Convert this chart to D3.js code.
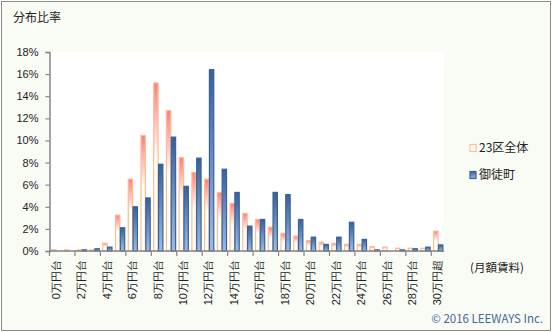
<!DOCTYPE html>
<html><head><meta charset="utf-8">
<script src="https://cdn.jsdelivr.net/npm/d3@7"></script>
<style>
body{margin:0;background:#fff;}
svg{display:block;font-family:"Noto Sans CJK JP","Noto Sans",sans-serif;}
</style></head>
<body><svg id="c" width="553" height="332"></svg>
<script>
const categories = ["0万円台","1万円台","2万円台","3万円台","4万円台","5万円台","6万円台","7万円台","8万円台","9万円台","10万円台","11万円台","12万円台","13万円台","14万円台","15万円台","16万円台","17万円台","18万円台","19万円台","20万円台","21万円台","22万円台","23万円台","24万円台","25万円台","26万円台","27万円台","28万円台","29万円台","30万円超"];
const seriesNames = ["23区全体","御徒町"];
const wardValues = [0.1,0.1,0.1,0.1,0.7,3.25,6.5,10.45,15.2,12.7,8.45,7.1,6.5,5.3,4.3,3.4,2.85,2.15,1.6,1.35,0.95,0.8,0.7,0.6,0.6,0.4,0.35,0.25,0.25,0.25,1.8];
const okachimachiValues = [0,0,0.1,0.2,0.35,2.1,4.0,4.8,7.85,10.3,5.85,8.4,16.4,7.4,5.3,2.25,2.85,5.3,5.1,2.85,1.25,0.6,1.25,2.6,1.05,0.1,0,0.1,0.2,0.35,0.55];
const yTicks = [0,2,4,6,8,10,12,14,16,18];
const xTickLabels = categories.filter((d,i)=>i%2===0);

const svg = d3.select("#c");
const W=553,H=332;
const pLeft=49.5, pRight=444, pTop=52, pBottom=251;

// background
svg.append("rect").attr("x",0).attr("y",0).attr("width",W).attr("height",H).attr("fill","#fff");
svg.append("rect").attr("x",1.5).attr("y",1.5).attr("width",549).attr("height",329)
  .attr("fill","#f9fbf5").attr("stroke","#8c8c8c").attr("stroke-width",1);
svg.append("rect").attr("x",pLeft).attr("y",pTop).attr("width",pRight-pLeft).attr("height",pBottom-pTop).attr("fill","#fff");

const defs = svg.append("defs");
const gO = defs.append("linearGradient").attr("id","gO").attr("x1",0).attr("y1",0).attr("x2",0).attr("y2",1);
gO.append("stop").attr("offset",0).attr("stop-color","#ff7d80");
gO.append("stop").attr("offset",0.45).attr("stop-color","#ffffff");
gO.append("stop").attr("offset",1).attr("stop-color","#ffffff");
const gB = defs.append("linearGradient").attr("id","gB").attr("x1",0).attr("y1",0).attr("x2",0).attr("y2",1);
gB.append("stop").attr("offset",0).attr("stop-color","#35609a");
gB.append("stop").attr("offset",1).attr("stop-color","#9dbbe3");

const x = d3.scaleBand().domain(categories).range([pLeft,pRight]).padding(0);
const x1 = d3.scaleBand().domain(seriesNames).range([x.bandwidth()*0.15, x.bandwidth()*0.95]).paddingInner(-0.12);
const y = d3.scaleLinear().domain([0,18]).range([pBottom,pTop]);

const styles = {
  "23区全体": {fill:"url(#gO)", stroke:"#fbbf8c"},
  "御徒町": {fill:"url(#gB)", stroke:"#3a6298"}
};
const seriesData = [
  {name:"23区全体", values: wardValues},
  {name:"御徒町", values: okachimachiValues}
];

seriesData.forEach(s=>{
  const st = styles[s.name];
  svg.append("g").selectAll("rect").data(s.values.map((v,i)=>({v,c:categories[i]})).filter(d=>d.v>0))
    .join("rect")
    .attr("x",d=>x(d.c)+x1(s.name)+0.5)
    .attr("y",d=>y(d.v))
    .attr("width",x1.bandwidth()-1)
    .attr("height",d=>Math.max(0,pBottom-y(d.v)))
    .attr("fill",st.fill).attr("stroke",st.stroke).attr("stroke-width",1.2);
});

// y axis
const yAxis = svg.append("g").attr("transform",`translate(${pLeft},0)`)
  .call(d3.axisLeft(y).tickValues(yTicks).tickSize(4).tickPadding(7).tickFormat(d=>d+"%"));
yAxis.select(".domain").attr("stroke","#858585").attr("stroke-width",1.5);
yAxis.selectAll(".tick line").attr("stroke","#858585").attr("stroke-width",1.2);
yAxis.selectAll("text").attr("font-size",11).attr("fill","#222");

// x axis line and tick marks at boundaries every 2 categories
svg.append("line").attr("x1",pLeft).attr("x2",pRight).attr("y1",pBottom).attr("y2",pBottom).attr("stroke","#858585").attr("stroke-width",1.5);
const boundaries = categories.filter((d,i)=>i%2===0);
svg.append("g").selectAll("line").data(boundaries).join("line")
  .attr("x1",d=>x(d)).attr("x2",d=>x(d)).attr("y1",pBottom).attr("y2",pBottom+5)
  .attr("stroke","#858585").attr("stroke-width",1.2);

// x labels
const xAxis = svg.append("g").attr("transform",`translate(0,${pBottom})`)
  .call(d3.axisBottom(x).tickValues(xTickLabels).tickSize(0).tickFormat(d=>d));
xAxis.select(".domain").remove();
xAxis.selectAll("text")
  .attr("font-size",11).attr("fill","#222")
  .attr("text-anchor","end").attr("y",0).attr("dy","0.35em")
  .attr("transform","translate(0,9) rotate(-90)");

// title
svg.append("text").attr("x",13).attr("y",22).attr("font-size",12).attr("fill","#222").text("分布比率");
svg.append("text").attr("x",470).attr("y",272).attr("font-size",11.5).attr("fill","#222").text("(月額賃料)");
svg.append("text").attr("x",543).attr("y",323).attr("text-anchor","end").attr("font-size",11.5).attr("fill","#44679c").text("© 2016 LEEWAYS Inc.");

// legend
const leg = svg.append("g");
const legY = [148, 175];
seriesNames.forEach((n,i)=>{
  leg.append("rect").attr("x",470).attr("y",legY[i]-3.5).attr("width",6).attr("height",7)
    .attr("fill",i===0?"#fff":"url(#gB)").attr("stroke",styles[n].stroke).attr("stroke-width",1.2);
  leg.append("text").attr("x",479).attr("y",legY[i]).attr("dy","0.35em").attr("font-size",12).attr("fill","#222").text(n);
});
</script></body></html>
